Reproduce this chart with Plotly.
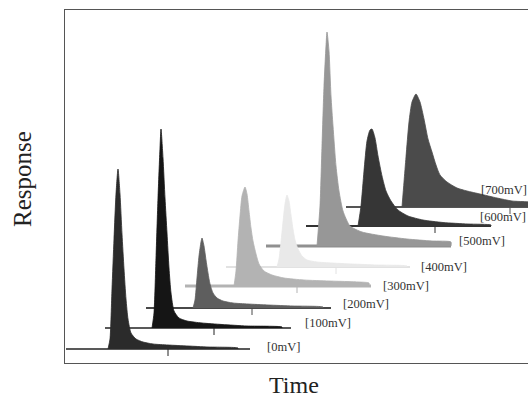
import plotly.graph_objects as go

# ---------------- data ----------------
labels = ["[0mV]", "[100mV]", "[200mV]", "[300mV]", "[400mV]", "[500mV]", "[600mV]", "[700mV]"]

# waterfall offsets (time / response units) of each trace's baseline
base_level = [14, 35, 55, 77, 96, 117, 137, 156]
base_start = [1, 40, 81, 120, 161, 201, 241, 281]
base_end = [185, 226, 266, 306, 345, 386, 426, 470]
onset_time = [43, 87, 128, 169, 212, 252, 293, 337]
marker_time = [103, 149, 187, 232, 271, None, 370, 445]

# peak profiles: time after onset, response above baseline
t_0 = [0, 2, 4, 6, 8, 10, 12, 14, 16, 18, 20, 23, 28, 35, 45, 60, 80, 100, 130]
r_0 = [0, 10, 60, 110, 155, 180, 155, 115, 80, 50, 30, 16, 10, 7, 5, 4, 3, 2, 1]

t_100 = [0, 2, 4, 6, 8, 9, 11, 13, 15, 17, 19, 22, 27, 35, 50, 70, 95, 130]
r_100 = [0, 15, 70, 130, 180, 199, 170, 130, 95, 60, 35, 17, 10, 7, 5, 3.5, 2, 1]

t_200 = [0, 2, 4, 6, 8, 9, 11, 13, 15, 17, 20, 24, 30, 40, 55, 75, 100, 130]
r_200 = [0, 8, 30, 52, 66, 70, 62, 48, 35, 24, 15, 10, 7, 5, 4, 3, 2, 1]

t_300 = [0, 2, 4, 6, 8, 11, 13, 15, 17, 19, 22, 25, 30, 38, 50, 70, 95, 125, 135]
r_300 = [0, 15, 45, 70, 90, 99, 92, 75, 58, 45, 32, 22, 15, 11, 8, 6, 5, 4, 3]

t_400 = [0, 2, 4, 6, 8, 10, 12, 14, 16, 18, 21, 25, 30, 40, 55, 75, 100, 130]
r_400 = [0, 8, 25, 45, 63, 72, 66, 52, 38, 27, 18, 11, 7, 5, 4, 3, 2, 1]

t_500 = [0, 3, 5, 7, 9, 10, 12, 14, 16, 19, 22, 26, 33, 45, 66, 90, 115, 134]
r_500 = [0, 40, 100, 160, 200, 214, 195, 150, 120, 80, 55, 35, 20, 14, 10, 7, 5, 4]

t_600 = [0, 3, 6, 9, 12, 14, 17, 20, 24, 28, 33, 40, 50, 65, 85, 110, 133]
r_600 = [0, 20, 55, 85, 96, 97, 88, 70, 50, 35, 25, 16, 10, 6, 3.5, 2, 1]

t_700 = [0, 2, 4, 7, 10, 14, 18, 22, 26, 30, 34, 38, 45, 55, 65, 78, 95, 110, 133]
r_700 = [0, 25, 50, 85, 105, 113, 105, 88, 68, 55, 42, 32, 25, 19, 16, 13, 9, 6, 4]

times = [t_0, t_100, t_200, t_300, t_400, t_500, t_600, t_700]
responses = [r_0, r_100, r_200, r_300, r_400, r_500, r_600, r_700]

# ---------------- styles ----------------
fill_colors = ["#2b2b2b", "#151515", "#5e5e5e", "#b3b3b3", "#e9e9e9", "#979797", "#363636", "#4b4b4b"]
line_colors = ["#222222", "#222222", "#484848", "#b3b3b3", "#e2e2e2", "#909090", "#333333", "#555555"]
line_widths = [1.5, 1.5, 2, 3, 2, 3, 2, 2]
label_x = [200, 238, 276, 316, 354, 392, 413, 414]
label_y = [16, 40, 59, 77, 96, 122, 146, 173]

fig = go.Figure()

# draw back (700mV) to front (0mV)
for i in reversed(range(len(labels))):
    b = base_level[i]
    # baseline
    fig.add_trace(go.Scatter(
        x=[base_start[i], base_end[i]], y=[b, b], mode="lines",
        line=dict(color=line_colors[i], width=line_widths[i]),
        hoverinfo="skip", showlegend=False))
    # marker tick on baseline
    if marker_time[i] is not None:
        fig.add_trace(go.Scatter(
            x=[marker_time[i], marker_time[i]], y=[b, b - 7], mode="lines",
            line=dict(color=line_colors[i], width=1),
            hoverinfo="skip", showlegend=False))
    # filled peak
    xs = [onset_time[i] + t for t in times[i]]
    ys = [b + r for r in responses[i]]
    xs = xs + [xs[-1]]
    ys = ys + [b]
    fig.add_trace(go.Scatter(
        x=xs, y=ys, mode="lines", fill="toself",
        fillcolor=fill_colors[i],
        line=dict(color=fill_colors[i], width=0.8, shape="spline", smoothing=0.6),
        name=labels[i], showlegend=False))

for i, lab in enumerate(labels):
    fig.add_annotation(
        x=label_x[i], y=label_y[i], text=lab, showarrow=False,
        xanchor="left", yanchor="middle",
        font=dict(family="Liberation Serif", size=12.5, color="#333333"))

fig.add_annotation(
    x=(22 - 65) / 463, y=(363 - 179) / 353, xref="paper", yref="paper",
    text="Response", textangle=-90, showarrow=False,
    xanchor="center", yanchor="middle",
    font=dict(family="Liberation Serif", size=25, color="#222222"))
fig.add_annotation(
    x=(294 - 65) / 463, y=(363 - 385) / 353, xref="paper", yref="paper",
    text="Time", showarrow=False, xanchor="center", yanchor="middle",
    font=dict(family="Liberation Serif", size=24, color="#222222"))

fig.update_xaxes(range=[0, 463], showgrid=False, zeroline=False,
                 showticklabels=False, ticks="", showline=True,
                 linecolor="#555555", linewidth=1, mirror=True)
fig.update_yaxes(range=[0, 353], showgrid=False, zeroline=False,
                 showticklabels=False, ticks="", showline=True,
                 linecolor="#555555", linewidth=1, mirror=False)

fig.update_layout(
    width=528, height=400,
    margin=dict(l=65, r=0, t=10, b=37),
    plot_bgcolor="white", paper_bgcolor="white",
    showlegend=False,
)

fig.write_html(
    "out.html",
    config={"displayModeBar": False},
    post_script="document.body.style.margin='0';document.body.style.overflow='hidden';",
)
